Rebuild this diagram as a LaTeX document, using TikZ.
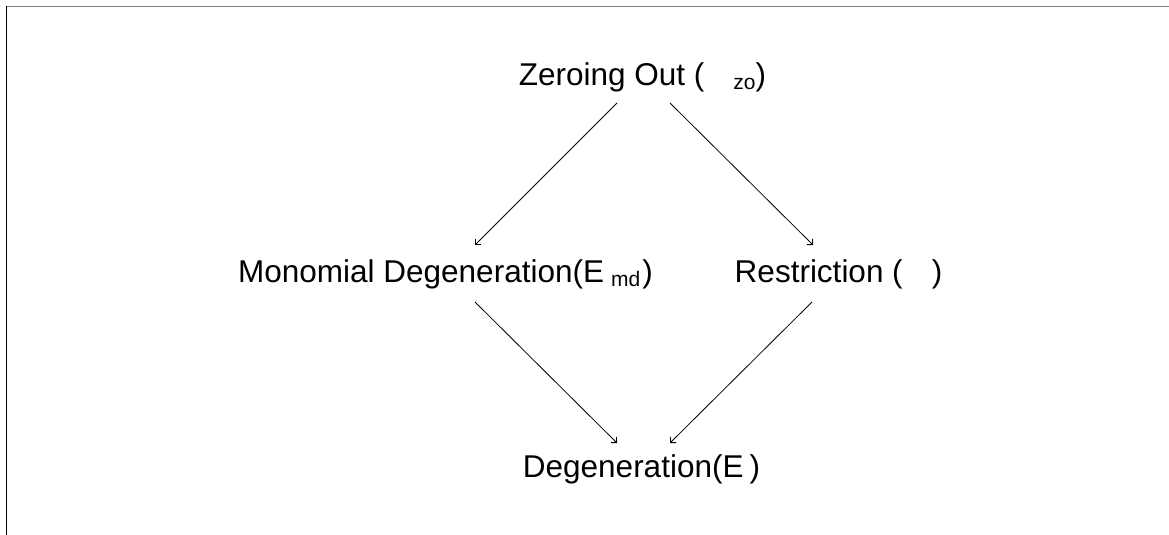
\documentclass[tikz,border=0pt]{standalone}
\usepackage{fontspec}
\setmainfont{Liberation Sans}
\usetikzlibrary{arrows.meta}
\tikzset{
  lbl/.style={inner sep=0pt, outer sep=0pt, anchor=base, font=\fontsize{31.5}{36}\selectfont},
  arr/.style={line width=0.8pt, -{Straight Barb[length=4pt,width=8pt,line width=0.8pt]}},
}
\newcommand{\subtxt}[1]{\raisebox{-4pt}{\fontsize{21}{24}\selectfont #1}}
\begin{document}
\begin{tikzpicture}[x=1pt,y=-1pt]
\useasboundingbox (0,0) rectangle (1169,535);
\draw[line width=1pt, gray] (6.5,6.5) -- (1169,6.5);
\draw[line width=1pt, black] (6.5,6.5) -- (6.5,535);
\node[lbl] (zo) at (642.5,85) {Zeroing Out (\hspace{29pt}\subtxt{zo})};
\node[lbl] (md) at (445.5,282) {Monomial Degeneration(E\hspace{7pt}\subtxt{md}\hspace{2pt})};
\node[lbl] (re) at (838.5,282) {Restriction (\hspace{29pt})};
\node[lbl] (dg) at (641.5,477) {Degeneration(E\hspace{6pt})};
\draw[arr] ([shift={(-25.5,18)}]zo.base) -- ([shift={(29.5,-37)}]md.base);
\draw[arr] ([shift={(27.5,18)}]zo.base) -- ([shift={(-25.5,-37)}]re.base);
\draw[arr] ([shift={(29.5,20)}]md.base) -- ([shift={(-24.5,-34)}]dg.base);
\draw[arr] ([shift={(-26.5,20)}]re.base) -- ([shift={(28.5,-34)}]dg.base);
\end{tikzpicture}
\end{document}
